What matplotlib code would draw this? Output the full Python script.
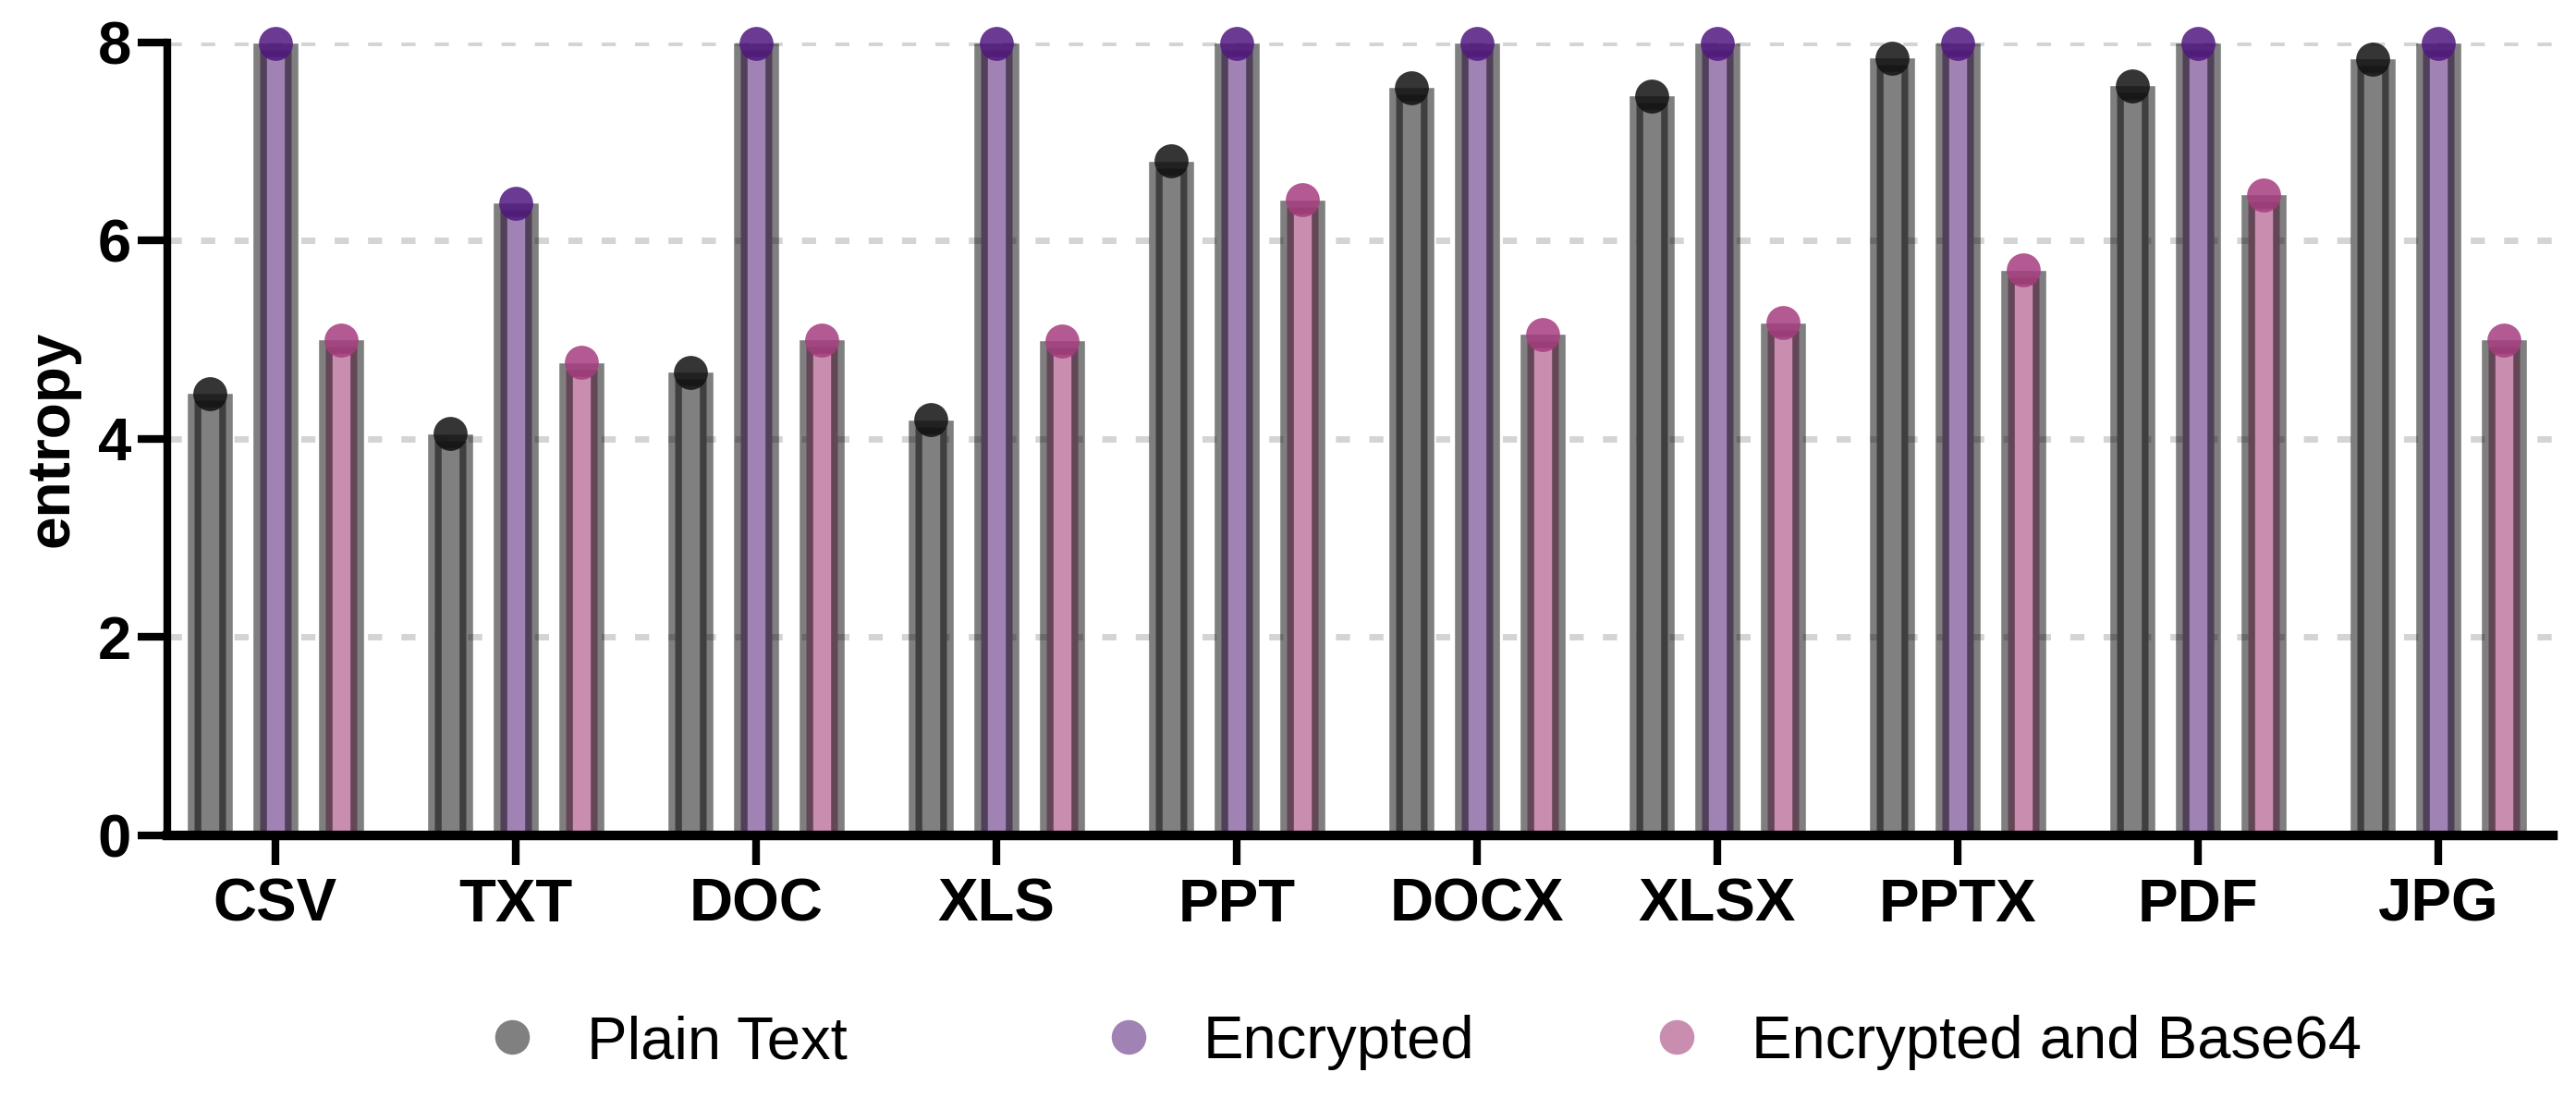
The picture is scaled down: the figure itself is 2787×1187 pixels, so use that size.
import matplotlib
matplotlib.use('Agg')
import numpy as np
import matplotlib.pyplot as plt
from matplotlib.lines import Line2D
from matplotlib.transforms import ScaledTranslation

plt.rcParams['font.family'] = ['Liberation Sans', 'DejaVu Sans']

categories = ['CSV', 'TXT', 'DOC', 'XLS', 'PPT', 'DOCX', 'XLSX', 'PPTX', 'PDF', 'JPG']
plain_text = [4.46, 4.05, 4.67, 4.19, 6.80, 7.54, 7.46, 7.84, 7.56, 7.83]
encrypted = [7.99, 6.38, 7.99, 7.99, 7.99, 7.99, 7.99, 7.99, 7.99, 7.99]
encrypted_b64 = [5.00, 4.77, 5.00, 4.99, 6.41, 5.05, 5.17, 5.70, 6.46, 5.00]
series_names = ['Plain Text', 'Encrypted', 'Encrypted and Base64']

fill_colors = ['#808080', '#a182b4', '#c98db0']
dot_colors = ['#111111', '#51177f', '#a63d7f']

fig = plt.figure(figsize=(27.87, 11.87), dpi=100)
ax = fig.add_axes([0.0649, 0.2384, 0.9261, 0.7231])

x = np.arange(len(categories))
offset = 0.273
width = 0.133
edge_lw = 10.5

# the thick outline should end at the value, not half a stroke above it
shift = ax.transData + ScaledTranslation(0, -edge_lw / 2 / 72, fig.dpi_scale_trans)

for i, vals in enumerate([plain_text, encrypted, encrypted_b64]):
    xs = x + (i - 1) * offset
    bars = ax.bar(xs, vals, width=width, color=fill_colors[i],
                  edgecolor=(0, 0, 0, 0.5), linewidth=edge_lw, zorder=2)
    for b in bars:
        b.set_transform(shift)
    ax.scatter(xs, vals, s=700, color=dot_colors[i], alpha=0.85,
               linewidths=0, zorder=3, clip_on=False)

ax.set_xlim(-0.45, 9.477)
ax.set_ylim(0, 8)
ax.set_yticks([0, 2, 4, 6, 8])
ax.set_xticks(x)
ax.set_xticklabels(categories)

ax.yaxis.grid(True, color='#d4d4d4', linewidth=5, linestyle=(0, (2.2, 3.0)))
ax.set_axisbelow(True)

for side in ['top', 'right']:
    ax.spines[side].set_visible(False)
ax.spines['left'].set_linewidth(6)
ax.spines['bottom'].set_linewidth(7.5)

ax.tick_params(axis='both', length=23, width=6, labelsize=47)
ax.tick_params(axis='y', pad=5)
ax.tick_params(axis='x', pad=10)
for lab in ax.get_xticklabels() + ax.get_yticklabels():
    lab.set_fontweight('bold')

ax.set_ylabel('entropy', fontsize=46, fontweight='bold', labelpad=14)

# legend entries placed one by one, the gaps in the original are uneven
marker_x = [528, 1195, 1788]
for i, name in enumerate(series_names):
    h = Line2D([], [], marker='o', linestyle='none', markersize=27,
               markerfacecolor=fill_colors[i], markeredgewidth=0)
    fig.legend(handles=[h], labels=[name], loc='center left',
               bbox_to_anchor=(marker_x[i] / 2787, 1 - 1128 / 1187),
               frameon=False, borderpad=0, borderaxespad=0,
               handlelength=0.8, handletextpad=0.84, fontsize=47)

fig.savefig('out.png', dpi=100)
